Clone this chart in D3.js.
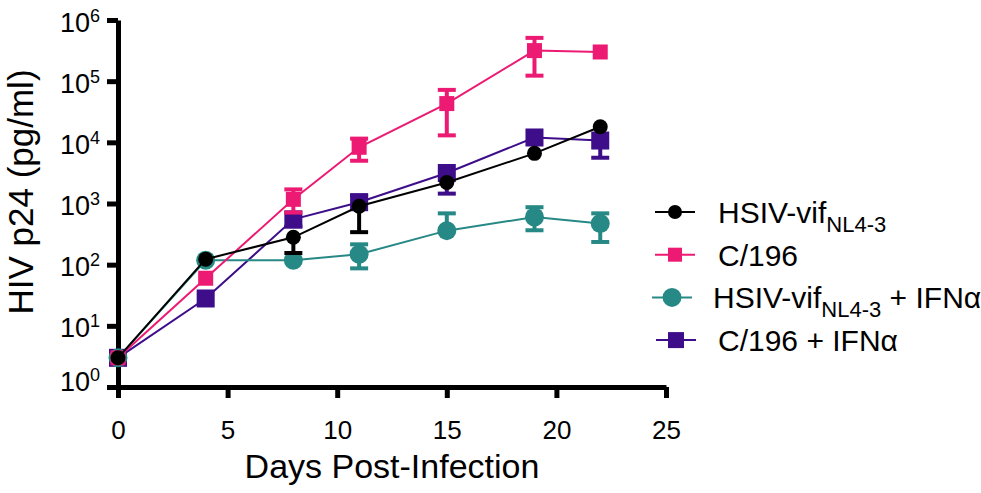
<!DOCTYPE html>
<html>
<head>
<meta charset="utf-8">
<script src="https://cdn.jsdelivr.net/npm/d3@7"></script>
<style>
  body { margin: 0; background: #fff; }
  svg { display: block; font-family: 'Liberation Sans', Arial, sans-serif; }
</style>
</head>
<body>
<div id="chart"></div>
<script>
// HIV p24 over days post-infection (log scale)
const days = [0, 4, 8, 11, 15, 19, 22];
const xTicks = [0, 5, 10, 15, 20, 25];
const yTickExponents = [0, 1, 2, 3, 4, 5, 6];

// means
const hsivMean = [3, 123, 280, 900, 2200, 6600, 18000];
const c196Mean = [3, 60, 1170, 8300, 43000, 316000, 300000];
const hsivIfnMean = [3, 118, 118, 148, 360, 600, 470];
const c196IfnMean = [3, 28, 550, 1050, 3150, 12000, 10700];

// visible error bar ends (null = hidden behind the marker)
const hsivLow = [null, null, 155, 340, null, null, null];
const hsivHigh = [null, null, null, null, null, null, null];
const c196Low = [null, null, 710, 5000, 13000, 123000, null];
const c196High = [null, null, 1700, 11500, 72000, 510000, null];
const hsivIfnLow = [null, null, null, 87, null, 365, 235];
const hsivIfnHigh = [null, null, null, 215, 690, 870, 690];
const c196IfnLow = [null, null, 420, null, 1450, null, 5600];
const c196IfnHigh = [null, null, null, 1350, null, null, null];

const FONT = 'Liberation Sans, Arial, sans-serif';

const CONFIG = {
  width: 981,
  height: 493,
  plot: { left: 118, right: 666, top: 20, bottom: 387 }
};

// draw order: purple, teal, pink, black (black on top)
const series = [
  { name: 'c196ifn', mean: c196IfnMean, low: c196IfnLow, high: c196IfnHigh, color: '#3d0d8a', shape: 'square', size: 18 },
  { name: 'hsivifn', mean: hsivIfnMean, low: hsivIfnLow, high: hsivIfnHigh, color: '#268985', shape: 'circle', size: 9.5 },
  { name: 'c196', mean: c196Mean, low: c196Low, high: c196High, color: '#ec1a72', shape: 'square', size: 15 },
  { name: 'hsiv', mean: hsivMean, low: hsivLow, high: hsivHigh, color: '#000000', shape: 'circle', size: 7.5 }
];

const svg = d3.select('#chart')
  .append('svg')
  .attr('width', CONFIG.width)
  .attr('height', CONFIG.height);

const x = d3.scaleLinear()
  .domain([0, 25])
  .range([CONFIG.plot.left, CONFIG.plot.right]);

const y = d3.scaleLog()
  .domain([1, 1e6])
  .range([CONFIG.plot.bottom, CONFIG.plot.top]);

// x axis
const xAxis = svg.append('g')
  .attr('transform', `translate(0, ${CONFIG.plot.bottom})`)
  .call(d3.axisBottom(x).tickValues(xTicks).tickSize(11).tickSizeOuter(0).tickPadding(23));

xAxis.attr('font-family', FONT);
xAxis.select('.domain').attr('stroke-width', 5).attr('stroke', '#000');
xAxis.selectAll('.tick line').attr('stroke-width', 5).attr('stroke', '#000');
xAxis.selectAll('.tick text')
  .attr('fill', '#000')
  .style('font-size', '26px');

// y axis
const yAxis = svg.append('g')
  .attr('transform', `translate(${CONFIG.plot.left}, 0)`)
  .call(d3.axisLeft(y)
    .tickValues(yTickExponents.map(e => Math.pow(10, e)))
    .tickFormat(() => '')
    .tickSize(11)
    .tickSizeOuter(0));

yAxis.attr('font-family', FONT);
yAxis.select('.domain').attr('stroke-width', 5).attr('stroke', '#000');
yAxis.selectAll('.tick line').attr('stroke-width', 5).attr('stroke', '#000');
yAxis.selectAll('.tick text').remove();

yAxis.selectAll('.tick').each(function(d) {
  const exp = Math.round(Math.log10(d));
  const t = d3.select(this).append('text')
    .attr('x', -18)
    .attr('y', exp === 0 ? 3 : 11)
    .attr('text-anchor', 'end')
    .attr('fill', '#000')
    .style('font-size', '27px');
  t.append('tspan').text('10');
  t.append('tspan')
    .attr('dy', -10)
    .style('font-size', '18px')
    .text(exp);
});

// axis titles
svg.append('text')
  .attr('transform', `translate(33, 192) rotate(-90)`)
  .attr('text-anchor', 'middle')
  .style('font-size', '35px')
  .text('HIV p24 (pg/ml)');

svg.append('text')
  .attr('x', (CONFIG.plot.left + CONFIG.plot.right) / 2)
  .attr('y', 478)
  .attr('text-anchor', 'middle')
  .style('font-size', '34px')
  .text('Days Post-Infection');

// series
const line = d3.line()
  .x(d => x(d.day))
  .y(d => y(d.value));

function drawMarker(g, shape, size, color, cx, cy) {
  if (shape === 'circle') {
    g.append('circle')
      .attr('cx', cx)
      .attr('cy', cy)
      .attr('r', size)
      .attr('fill', color);
  } else {
    g.append('rect')
      .attr('x', cx - size / 2)
      .attr('y', cy - size / 2)
      .attr('width', size)
      .attr('height', size)
      .attr('fill', color);
  }
}

series.forEach(s => {
  const g = svg.append('g').attr('class', s.name);
  const points = days.map((day, i) => ({ day: day, value: s.mean[i], low: s.low[i], high: s.high[i] }));

  g.append('path')
    .datum(points)
    .attr('d', line)
    .attr('fill', 'none')
    .attr('stroke', s.color)
    .attr('stroke-width', 2);

  // error bars
  points.forEach(p => {
    [p.low, p.high].forEach(end => {
      if (end === null) return;
      g.append('line')
        .attr('x1', x(p.day)).attr('x2', x(p.day))
        .attr('y1', y(p.value)).attr('y2', y(end))
        .attr('stroke', s.color)
        .attr('stroke-width', 4);
      g.append('line')
        .attr('x1', x(p.day) - 9).attr('x2', x(p.day) + 9)
        .attr('y1', y(end)).attr('y2', y(end))
        .attr('stroke', s.color)
        .attr('stroke-width', 4);
    });
  });

  points.forEach(p => drawMarker(g, s.shape, s.size, s.color, x(p.day), y(p.value)));
});

// legend
const legendItems = [
  { color: '#000000', shape: 'circle', size: 7, label: 'HSIV-vif', sub: 'NL4-3', tail: '', lx: 655, tx: 718 },
  { color: '#ec1a72', shape: 'square', size: 14, label: 'C/196', sub: null, tail: '', lx: 655, tx: 718 },
  { color: '#268985', shape: 'circle', size: 9.5, label: 'HSIV-vif', sub: 'NL4-3', tail: ' + IFNα', lx: 652, tx: 713 },
  { color: '#3d0d8a', shape: 'square', size: 16, label: 'C/196 + IFNα', sub: null, tail: '', lx: 656, tx: 718 }
];

const legend = svg.append('g').attr('class', 'legend');

legendItems.forEach((item, i) => {
  const cy = 212 + i * 42.7;
  const g = legend.append('g');
  g.append('line')
    .attr('x1', item.lx).attr('x2', item.lx + 40)
    .attr('y1', cy).attr('y2', cy)
    .attr('stroke', item.color)
    .attr('stroke-width', 2);
  drawMarker(g, item.shape, item.size, item.color, item.lx + 20, cy);

  const t = g.append('text')
    .attr('x', item.tx)
    .attr('y', cy + 11)
    .style('font-size', '30px')
    .attr('fill', '#000');
  t.append('tspan').text(item.label);
  if (item.sub) {
    t.append('tspan')
      .attr('dy', 9)
      .style('font-size', '22px')
      .text(item.sub);
    if (item.tail) {
      t.append('tspan')
        .attr('dy', -9)
        .text(item.tail);
    }
  }
});
</script>
</body>
</html>
